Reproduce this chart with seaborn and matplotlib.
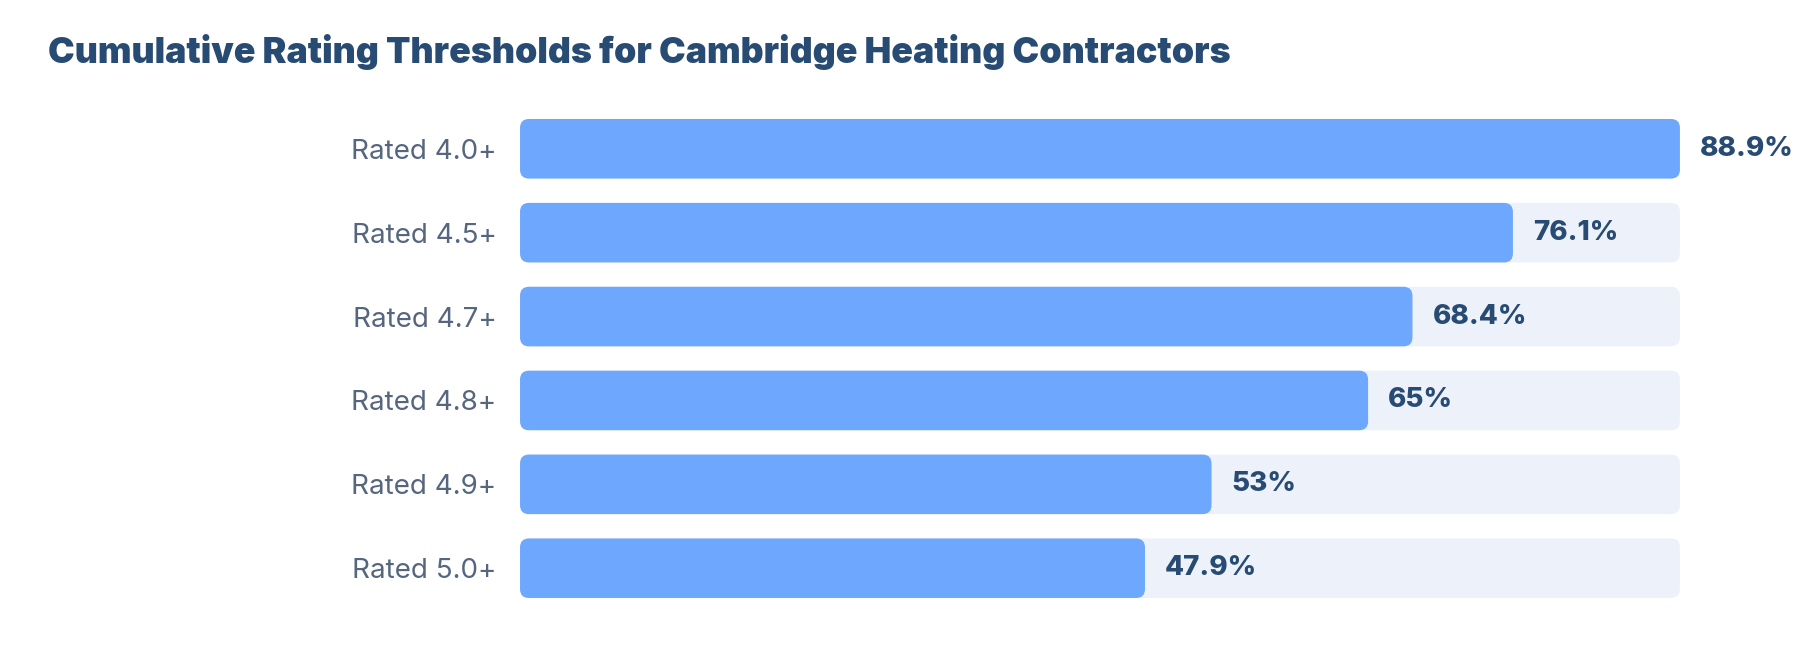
import matplotlib
matplotlib.use("Agg")
import matplotlib.pyplot as plt
import seaborn as sns
from matplotlib.patches import FancyBboxPatch

labels = ["Rated 4.0+", "Rated 4.5+", "Rated 4.7+", "Rated 4.8+", "Rated 4.9+", "Rated 5.0+"]
values = [88.9, 76.1, 68.4, 65, 53, 47.9]
value_labels = ["88.9%", "76.1%", "68.4%", "65%", "53%", "47.9%"]
title = "Cumulative Rating Thresholds for Cambridge Heating Contractors"

bar_color = "#6ea8fe"
track_color = "#edf2fa"
title_color = "#274b72"
value_color = "#274b72"
label_color = "#56667f"

sns.set_style("white")
plt.rcParams["font.family"] = ["Inter", "DejaVu Sans"]

fig = plt.figure(figsize=(18, 6.56), dpi=100)
ax = fig.add_axes([0.2889, 0.0884, 0.6444, 0.7302])

track = [max(values)] * len(values)
sns.barplot(x=track, y=labels, orient="h", color=track_color, width=0.71,
            saturation=1, ax=ax)
sns.barplot(x=values, y=labels, orient="h", color=bar_color, width=0.71,
            saturation=1, ax=ax)

ax.set_xlim(0, max(values))
ax.set_ylim(len(values) - 1 + 0.355, -0.355)

# swap square bars for rounded ones
fig.canvas.draw()
(x0, y0), (x1, y1) = ax.transData.transform([(0, 0), (1, 1)])
px_x = abs(x1 - x0)
px_y = abs(y1 - y0)
radius = 9
for p in list(ax.patches):
    x, y = p.get_x(), p.get_y()
    w, h = p.get_width(), p.get_height()
    rp = FancyBboxPatch((x, y), w, h,
                        boxstyle=f"round,pad=0,rounding_size={radius / px_x}",
                        mutation_aspect=px_x / px_y,
                        facecolor=p.get_facecolor(), edgecolor="none",
                        clip_on=False)
    p.remove()
    ax.add_patch(rp)

for i, (v, t) in enumerate(zip(values, value_labels)):
    ax.text(v + 20 / px_x, i, t, va="center", ha="left", fontsize=20,
            fontweight=800, color=value_color, clip_on=False)

sns.despine(ax=ax, left=True, bottom=True)
ax.set_xticks([])
ax.set_xlabel("")
ax.set_ylabel("")
ax.tick_params(axis="y", length=0, pad=17, labelsize=20, labelcolor=label_color)

fig.text(48 / 1800, 1 - 63 / 656, title, fontsize=25.7, fontweight=900,
         color=title_color, va="baseline", ha="left")

fig.savefig("out.png", dpi=100)
